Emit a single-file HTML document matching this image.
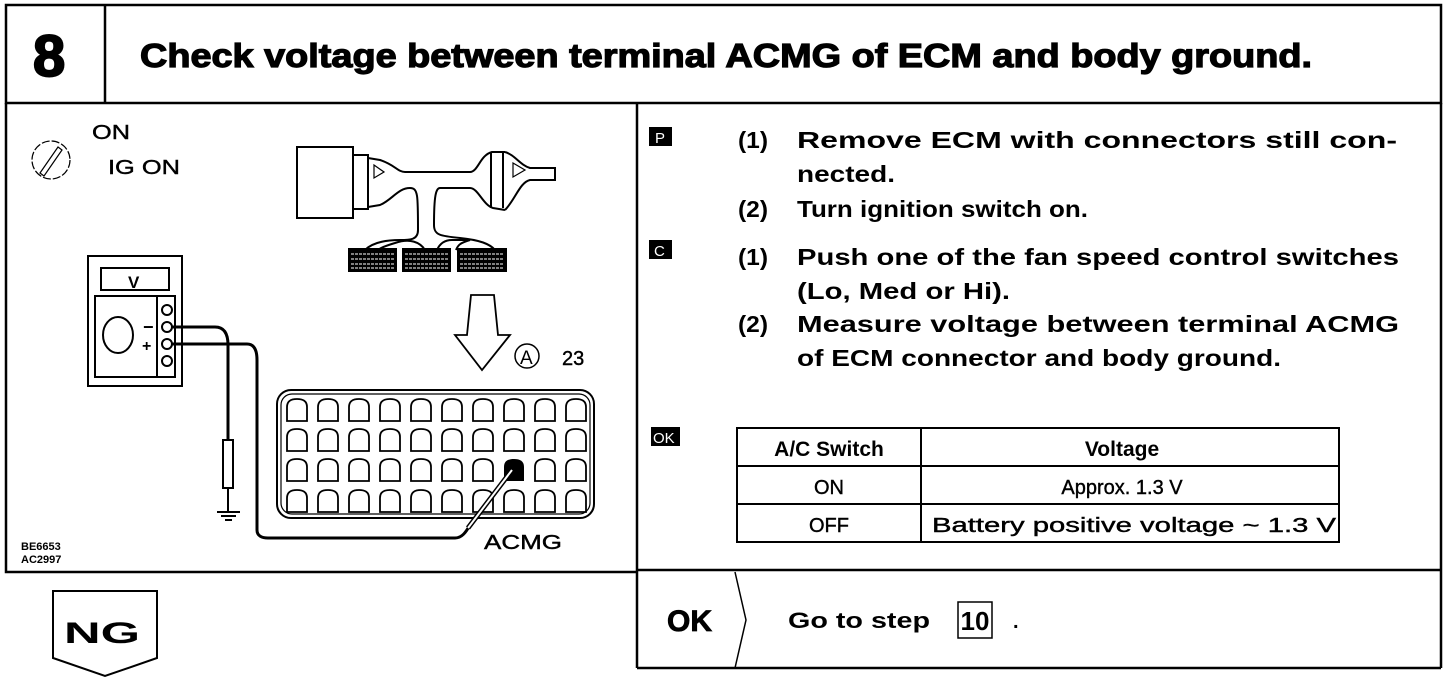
<!DOCTYPE html>
<html><head><meta charset="utf-8"><style>
html,body{margin:0;padding:0;background:#fff;width:1456px;height:692px;overflow:hidden}
svg{display:block}
text{font-family:"Liberation Sans",Arial,sans-serif;fill:#000}
.t{font-size:23px;font-weight:bold}
.s{font-size:20px;stroke:#000;stroke-width:0.4}
</style></head><body>
<svg width="1456" height="692" viewBox="0 0 1456 692" xmlns="http://www.w3.org/2000/svg">
<defs>
<path id="p" d="M0,22 L0,8 C0,2 4,0 10,0 C16,0 20,2 20,8 L20,22 Z"/>
</defs>
<g fill="none" stroke="#000" stroke-width="2.5">
<rect x="6" y="5" width="1435" height="98"/>
<line x1="105" y1="5" x2="105" y2="103"/>
<polyline points="6,103 6,572 637,572"/>
<line x1="637" y1="103" x2="637" y2="668"/>
<line x1="1441" y1="103" x2="1441" y2="668"/>
<line x1="637" y1="570" x2="1441" y2="570"/>
<line x1="637" y1="668" x2="1441" y2="668"/>
<polyline points="735,572 746,620 735,668" stroke-width="1.5"/>
<polygon points="53,591 157,591 157,658 105,676 53,658" stroke-width="2"/>
</g>
<text x="33" y="76" font-size="58" font-weight="bold" stroke="#000" stroke-width="2">8</text>
<text x="140" y="67" font-size="33" font-weight="bold" stroke="#000" stroke-width="1.2" textLength="1172" lengthAdjust="spacingAndGlyphs">Check voltage between terminal ACMG of ECM and body ground.</text>

<g fill="none" stroke="#000" stroke-width="1.2">
<circle cx="51" cy="160" r="19" stroke-dasharray="8,2"/>
<path d="M40,173 L58,147 L62,150 L44,176 Z"/>
</g>
<text x="92" y="139" class="s" textLength="38" lengthAdjust="spacingAndGlyphs">ON</text>
<text x="108" y="174" class="s" textLength="72" lengthAdjust="spacingAndGlyphs">IG ON</text>

<g fill="none" stroke="#000" stroke-width="2">
<rect x="297" y="147" width="56" height="71"/>
<rect x="353" y="155" width="15" height="54"/>
<path d="M368,158 L380,160 C395,165 398,172 405,172 L470,172 C478,172 480,155 492,152 L505,152"/>
<path d="M368,207 L380,205 C392,200 398,188 410,188 C418,188 418,195 418,230 C418,240 410,240 400,240 C380,240 370,245 365,250"/>
<path d="M437,250 C440,243 445,240 452,240 L470,240 C460,243 458,245 456,250"/>
<path d="M425,250 C420,242 410,238 395,243 C385,246 380,248 378,250"/>
<path d="M505,210 L493,208 C483,205 478,188 470,188 L440,188 C436,188 434,195 434,225 C434,235 440,236 460,238 C480,240 490,244 495,250"/>
<path d="M491,152 L491,208 M503,152 L503,208"/>
<path d="M505,152 C515,155 520,165 530,168 L555,168 L555,180 L530,180 C520,182 515,200 505,210"/>
<path d="M374,165 L384,172 L374,178 Z M513,163 L525,170 L513,177 Z" stroke-width="1.2"/>
</g>
<g fill="#000">
<rect x="348" y="248" width="49" height="24"/>
<rect x="402" y="248" width="49" height="24"/>
<rect x="457" y="248" width="50" height="24"/>
</g>
<g stroke="#fff" stroke-width="1" stroke-dasharray="3,1">
<line x1="351" y1="254" x2="394" y2="254"/><line x1="351" y1="259" x2="394" y2="259"/><line x1="351" y1="264" x2="394" y2="264"/><line x1="351" y1="268" x2="394" y2="268"/>
<line x1="405" y1="254" x2="448" y2="254"/><line x1="405" y1="259" x2="448" y2="259"/><line x1="405" y1="264" x2="448" y2="264"/><line x1="405" y1="268" x2="448" y2="268"/>
<line x1="460" y1="254" x2="504" y2="254"/><line x1="460" y1="259" x2="504" y2="259"/><line x1="460" y1="264" x2="504" y2="264"/><line x1="460" y1="268" x2="504" y2="268"/>
</g>

<polygon points="471,295 494,295 498,335 510,335 482,370 455,335 467,335" fill="none" stroke="#000" stroke-width="1.8"/>
<circle cx="527" cy="356" r="12" fill="none" stroke="#000" stroke-width="1.5"/>
<text x="520" y="364" font-size="19">A</text>
<text x="562" y="365" class="s">23</text>

<g fill="none" stroke="#000" stroke-width="2">
<rect x="88" y="256" width="94" height="130"/>
<rect x="101" y="268" width="68" height="22"/>
<rect x="95" y="296" width="80" height="81"/>
<line x1="157" y1="296" x2="157" y2="377"/>
<circle cx="167" cy="310" r="5"/><circle cx="167" cy="327" r="5"/><circle cx="167" cy="344" r="5"/><circle cx="167" cy="361" r="5"/>
<ellipse cx="118" cy="335" rx="15" ry="18"/>
</g>
<text x="128" y="288" font-size="17" font-weight="bold">V</text>
<text x="143" y="333" font-size="18" font-weight="bold">−</text>
<text x="142" y="351" font-size="16" font-weight="bold">+</text>
<g fill="none" stroke="#000" stroke-width="3">
<path d="M172,327 L215,327 C225,327 228,335 228,345 L228,440"/>
<path d="M172,344 L247,344 C254,344 257,350 257,360 L257,530 C257,536 262,538 268,538 L455,538 C462,538 466,532 470,525"/>
</g>
<g fill="none" stroke="#000" stroke-width="2">
<rect x="223" y="440" width="10" height="48"/>
<line x1="228" y1="488" x2="228" y2="512"/>
<line x1="217" y1="512" x2="240" y2="512"/>
<line x1="221" y1="516" x2="236" y2="516"/>
<line x1="225" y1="520" x2="232" y2="520"/>
</g>

<g fill="none" stroke="#000" stroke-width="2">
<rect x="277" y="390" width="317" height="128" rx="14"/>
<rect x="281" y="394" width="309" height="120" rx="11" stroke-width="1.2"/>
</g>
<g fill="none" stroke="#000" stroke-width="1.8">
<use href="#p" x="287" y="399"/><use href="#p" x="318" y="399"/><use href="#p" x="349" y="399"/><use href="#p" x="380" y="399"/><use href="#p" x="411" y="399"/><use href="#p" x="442" y="399"/><use href="#p" x="473" y="399"/><use href="#p" x="504" y="399"/><use href="#p" x="535" y="399"/><use href="#p" x="566" y="399"/>
<use href="#p" x="287" y="429"/><use href="#p" x="318" y="429"/><use href="#p" x="349" y="429"/><use href="#p" x="380" y="429"/><use href="#p" x="411" y="429"/><use href="#p" x="442" y="429"/><use href="#p" x="473" y="429"/><use href="#p" x="504" y="429"/><use href="#p" x="535" y="429"/><use href="#p" x="566" y="429"/>
<use href="#p" x="287" y="459"/><use href="#p" x="318" y="459"/><use href="#p" x="349" y="459"/><use href="#p" x="380" y="459"/><use href="#p" x="411" y="459"/><use href="#p" x="442" y="459"/><use href="#p" x="473" y="459"/><use href="#p" x="535" y="459"/><use href="#p" x="566" y="459"/>
<use href="#p" x="287" y="490"/><use href="#p" x="318" y="490"/><use href="#p" x="349" y="490"/><use href="#p" x="380" y="490"/><use href="#p" x="411" y="490"/><use href="#p" x="442" y="490"/><use href="#p" x="473" y="490"/><use href="#p" x="504" y="490"/><use href="#p" x="535" y="490"/><use href="#p" x="566" y="490"/>
</g>
<path d="M504,481 L504,467 C504,461 508,459 514,459 C520,459 524,461 524,467 L524,481 Z" fill="#000"/>
<line x1="512" y1="470" x2="468" y2="528" stroke="#000" stroke-width="5"/>
<line x1="512" y1="470" x2="468" y2="528" stroke="#fff" stroke-width="2"/>
<text x="484" y="549" class="s" textLength="78" lengthAdjust="spacingAndGlyphs">ACMG</text>
<text x="21" y="550" font-size="11" font-weight="bold">BE6653</text>
<text x="21" y="563" font-size="11" font-weight="bold">AC2997</text>
<text x="64" y="643" font-size="30" font-weight="bold" textLength="76" lengthAdjust="spacingAndGlyphs">NG</text>

<rect x="649" y="127" width="23" height="19" fill="#000"/>
<text x="655" y="143" font-size="15" style="fill:#fff">P</text>
<rect x="649" y="240" width="23" height="19" fill="#000"/>
<text x="654" y="256" font-size="15" style="fill:#fff">C</text>
<rect x="651" y="427" width="29" height="19" fill="#000"/>
<text x="653" y="443" font-size="15" style="fill:#fff">OK</text>

<text x="738" y="148" class="t" textLength="30" lengthAdjust="spacingAndGlyphs">(1)</text>
<text x="797" y="148" class="t" textLength="600" lengthAdjust="spacingAndGlyphs">Remove ECM with connectors still con-</text>
<text x="797" y="182" class="t" textLength="98" lengthAdjust="spacingAndGlyphs">nected.</text>
<text x="738" y="217" class="t" textLength="30" lengthAdjust="spacingAndGlyphs">(2)</text>
<text x="797" y="217" class="t" textLength="291" lengthAdjust="spacingAndGlyphs">Turn ignition switch on.</text>
<text x="738" y="265" class="t" textLength="30" lengthAdjust="spacingAndGlyphs">(1)</text>
<text x="797" y="265" class="t" textLength="602" lengthAdjust="spacingAndGlyphs">Push one of the fan speed control switches</text>
<text x="797" y="299" class="t" textLength="213" lengthAdjust="spacingAndGlyphs">(Lo, Med or Hi).</text>
<text x="738" y="332" class="t" textLength="30" lengthAdjust="spacingAndGlyphs">(2)</text>
<text x="797" y="332" class="t" textLength="602" lengthAdjust="spacingAndGlyphs">Measure voltage between terminal ACMG</text>
<text x="797" y="366" class="t" textLength="484" lengthAdjust="spacingAndGlyphs">of ECM connector and body ground.</text>

<g fill="none" stroke="#000" stroke-width="2">
<rect x="737" y="428" width="602" height="114"/>
<line x1="737" y1="466" x2="1339" y2="466"/>
<line x1="737" y1="504" x2="1339" y2="504"/>
<line x1="921" y1="428" x2="921" y2="542"/>
</g>
<text x="829" y="456" font-size="21" font-weight="bold" text-anchor="middle">A/C Switch</text>
<text x="1122" y="456" font-size="21" font-weight="bold" text-anchor="middle">Voltage</text>
<text x="829" y="494" class="s" text-anchor="middle">ON</text>
<text x="1122" y="494" class="s" text-anchor="middle">Approx. 1.3 V</text>
<text x="829" y="532" class="s" text-anchor="middle">OFF</text>
<text x="932" y="532" class="s" textLength="404" lengthAdjust="spacingAndGlyphs">Battery positive voltage ~ 1.3 V</text>

<text x="667" y="631" font-size="30" font-weight="bold" stroke="#000" stroke-width="0.8">OK</text>
<text x="788" y="628" font-size="22" font-weight="bold" textLength="142" lengthAdjust="spacingAndGlyphs">Go to step</text>
<rect x="958" y="602" width="34" height="36" fill="none" stroke="#000" stroke-width="1.5"/>
<text x="975" y="630" font-size="26" font-weight="bold" text-anchor="middle">10</text>
<text x="1013" y="628" font-size="20" font-weight="bold">.</text>
</svg>
</body></html>
